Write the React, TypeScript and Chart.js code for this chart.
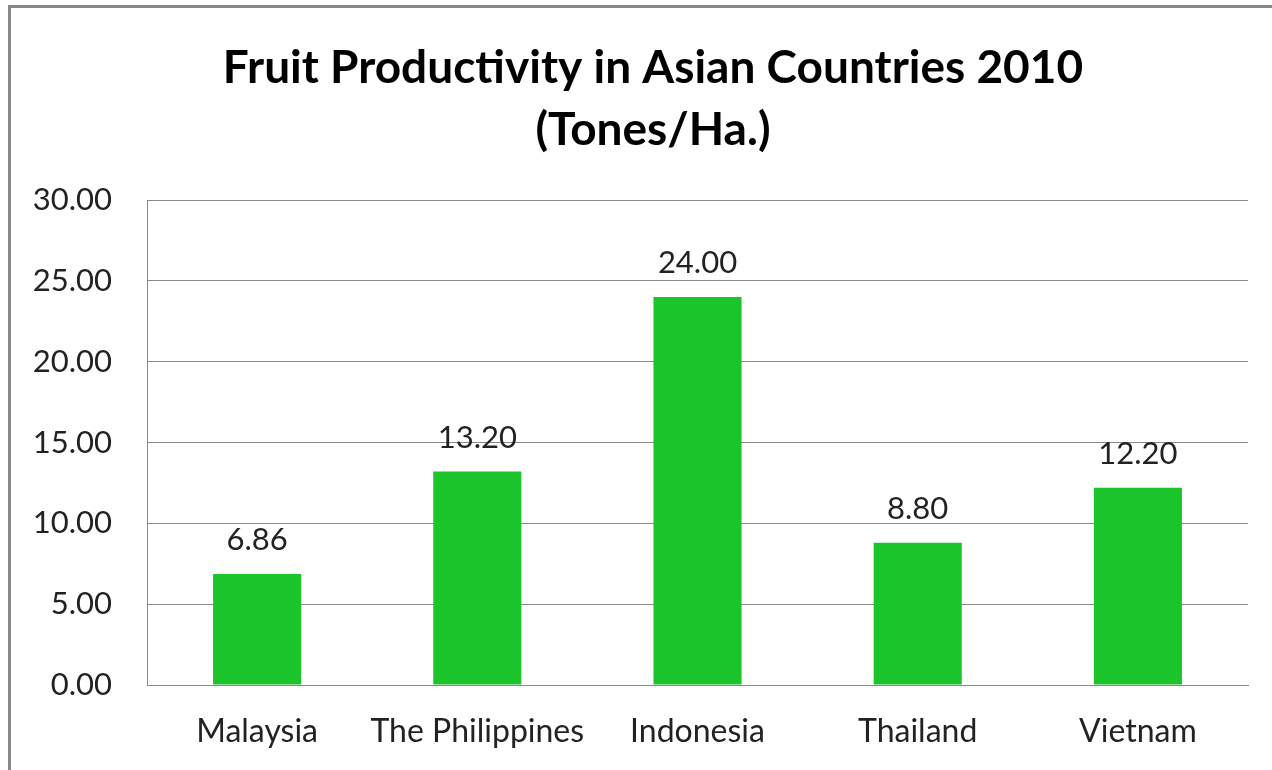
import React, { useEffect, useRef } from 'react';
import { Chart, registerables } from 'chart.js';

Chart.register(...registerables);

const categories = ['Malaysia', 'The Philippines', 'Indonesia', 'Thailand', 'Vietnam'];
const values = [6.86, 13.2, 24.0, 8.8, 12.2];
const yTickValues = [0, 5, 10, 15, 20, 25, 30];
const titleLines = ['Fruit Productivity in Asian Countries 2010', '(Tones/Ha.)'];

const FONT = 'Lato, "Open Sans", sans-serif';
const BAR_COLOR = '#1CC42B';
const GRID_COLOR = '#8A8A8A';
const TEXT_COLOR = '#222222';

const valueLabels = {
  id: 'valueLabels',
  afterDatasetsDraw(chart: any) {
    const ctx = chart.ctx;
    const meta = chart.getDatasetMeta(0);
    ctx.save();
    ctx.font = `31px ${FONT}`;
    ctx.fillStyle = TEXT_COLOR;
    ctx.textAlign = 'center';
    ctx.textBaseline = 'middle';
    meta.data.forEach((bar: any, i: number) => {
      const v = chart.data.datasets[0].data[i] as number;
      ctx.fillText(v.toFixed(2), bar.x, bar.y - 34);
    });
    ctx.restore();
  },
};

const centeredTitle = {
  id: 'centeredTitle',
  afterDraw(chart: any) {
    const ctx = chart.ctx;
    ctx.save();
    ctx.font = `bold 46px ${FONT}`;
    ctx.fillStyle = '#000000';
    ctx.textAlign = 'center';
    ctx.textBaseline = 'middle';
    titleLines.forEach((line, i) => {
      ctx.fillText(line, chart.width / 2, 60 + i * 62);
    });
    ctx.restore();
  },
};

export default function App() {
  const ref = useRef<HTMLCanvasElement | null>(null);

  useEffect(() => {
    if (!ref.current) return;
    const chart = new Chart(ref.current, {
      type: 'bar',
      data: {
        labels: categories,
        datasets: [
          {
            data: values,
            backgroundColor: BAR_COLOR,
            borderWidth: 0,
            barPercentage: 0.4,
            categoryPercentage: 1,
          },
        ],
      },
      options: {
        responsive: false,
        animation: false,
        layout: { padding: { left: 0, right: 47, top: 192, bottom: 0 } },
        plugins: {
          legend: { display: false },
          tooltip: { enabled: false },
          title: { display: false },
        },
        scales: {
          x: {
            grid: { display: false, drawTicks: false },
            border: { display: true, color: GRID_COLOR, width: 1 },
            ticks: {
              color: TEXT_COLOR,
              font: { family: FONT, size: 32 },
              padding: 27,
              maxRotation: 0,
              autoSkip: false,
            },
            afterFit: (s: any) => {
              s.height = 123;
            },
          },
          y: {
            min: 0,
            max: 30,
            afterBuildTicks: (s: any) => {
              s.ticks = yTickValues.map((v) => ({ value: v }));
            },
            grid: { color: GRID_COLOR, lineWidth: 1, drawTicks: false },
            border: { display: true, color: GRID_COLOR, width: 1 },
            ticks: {
              color: TEXT_COLOR,
              font: { family: FONT, size: 31 },
              padding: 35,
              callback: (v: any) => Number(v).toFixed(2),
            },
            afterFit: (s: any) => {
              s.width = 136;
            },
          },
        },
      },
      plugins: [valueLabels, centeredTitle],
    });
    return () => chart.destroy();
  }, []);

  return (
    <div style={{ position: 'fixed', inset: 0, overflow: 'hidden', background: '#fff' }}>
      <div
        style={{
          position: 'absolute',
          left: 8,
          top: 5,
          width: 1300,
          height: 820,
          borderTop: '3px solid #888888',
          borderLeft: '3px solid #888888',
          background: '#fff',
        }}
      >
        <canvas ref={ref} width={1284} height={800} style={{ display: 'block', width: 1284, height: 800 }} />
      </div>
    </div>
  );
}
